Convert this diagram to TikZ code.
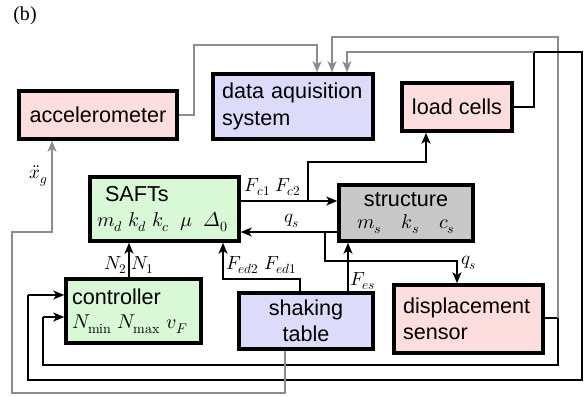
\documentclass[tikz,border=0pt]{standalone}
\usepackage{amsmath}
\usepackage{fontspec}
\usepackage{unicode-math}
\setmainfont{Liberation Sans}
\setmathfont{latinmodern-math.otf}
\newfontfamily\serifb{Liberation Serif}
\usetikzlibrary{arrows.meta,calc}
\definecolor{pinkf}{RGB}{253,221,221}
\definecolor{lavf}{RGB}{220,220,250}
\definecolor{grnf}{RGB}{216,248,214}
\definecolor{gryf}{RGB}{200,200,200}
\definecolor{wire}{RGB}{140,140,140}
\tikzset{
  box/.style={draw=black, line width=3.5pt, inner sep=0pt, font=\fontsize{21.6}{26.5}\selectfont},
  conn/.style={line width=1.8pt, black},
  gconn/.style={line width=1.8pt, wire},
  tip/.style={-{Stealth[length=11pt,width=9pt,inset=3pt]}},
  lab/.style={inner sep=0pt, font=\fontsize{19}{21}\selectfont},
}
\newcommand{\mlsz}{\fontsize{20}{22}\selectfont}
\begin{document}
\begin{tikzpicture}[x=1pt,y=-1pt]
\useasboundingbox (0,0) rectangle (588,396);

% boxes
\node[box, fill=pinkf, minimum width=158pt, minimum height=48pt] (acc) at (98,115) {accelerometer};
\node[box, fill=lavf, minimum width=160pt, minimum height=65pt, text width=142pt, align=left] (dq) at (293,106.5) {data aquisition\\system};
\node[box, fill=pinkf, minimum width=110pt, minimum height=48pt] (lc) at (457,107) {load cells};
\node[box, fill=grnf, minimum width=149pt, minimum height=64pt, text width=135pt, align=left] (saft) at (164.5,209) {\hspace*{8pt}SAFTs\\[-1pt]{\mlsz$m_d\;k_d\;k_c\;\;\mu\;\;\symit{\Delta}_0$}};
\node[box, fill=gryf, minimum width=134pt, minimum height=56pt, align=center] (st) at (406,213) {structure\\[-4pt]{\mlsz$m_s\quad k_s\quad c_s$}};
\node[box, fill=grnf, minimum width=135pt, minimum height=64pt, text width=123pt, align=left] (ctl) at (133.5,311) {controller\\[-2pt]{\mlsz$N_{\symup{min}}\;N_{\symup{max}}\;v_F$}};
\node[box, fill=lavf, minimum width=134pt, minimum height=56pt, align=center] (shk) at (306,321) {shaking\\table};
\node[box, fill=pinkf, minimum width=149pt, minimum height=68pt, text width=131pt, align=left] (ds) at (468.5,319) {displacement\\sensor};

% title
\node[inner sep=0pt, font=\serifb\fontsize{20}{22}\selectfont] (ttl) at (25,16) {(b)};

% coordinates
\coordinate (a1) at (317,45);
\coordinate (a2) at (332,37);
\coordinate (a3) at (347,52);
\coordinate (j1) at (534,52);
\coordinate (j2) at (558,318);
\coordinate (r1) at (582,380);
\coordinate (r2) at (28,295);
\coordinate (r3) at (43,317);
\coordinate (g1) at (12,393);
\coordinate (g2) at (52,232);
\coordinate (f1) at (308,162);
\coordinate (q1) at (325,261);
\coordinate (q2) at (457,261);
\coordinate (e1) at (300,279);
\coordinate (e2) at (223,279);
\coordinate (fs) at (348,293);
\coordinate (nn) at (129,279);

% accelerometer -> DAQ
\draw[gconn, tip] (acc.east) -- ++(15,0) |- (a1) -- (a1 |- dq.north);
% displacement sensor -> DAQ and controller
\draw[conn] (ds.east |- j2) -- (j2) -- (j2 |- 0,365) -| (r3);
\draw[conn, tip] (r3) -- (r3 -| ctl.west);
\draw[gconn, tip] (j2) |- (a2) -- (a2 |- dq.north);
% load cells -> DAQ and controller
\draw[conn] (lc.east) -| (j1) -| (r1) -| (r2);
\draw[conn, tip] (r2) -- (r2 -| ctl.west);
\draw[gconn, tip] (j1) -- (a3) -- (a3 |- dq.north);
% shaking table -> accelerometer
\draw[gconn, tip] (shk.south -| 285,0) |- (g1) |- (g2) -- (g2 |- acc.south);
% SAFTs -> structure and load cells
\draw[conn, tip] (saft.east |- 0,201) -- (st.west |- 0,201);
\draw[conn, tip] (f1 |- 0,201) -- (f1) -| (lc.south -| 426,0);
% structure -> SAFTs, displacement sensor
\draw[conn, tip] (st.west |- 0,232) -- (saft.east |- 0,232);
\draw[conn, tip] (q1 |- 0,232) -- (q1) -- (q2) -- (q2 |- ds.north);
% shaking table -> structure, SAFTs
\draw[conn, tip] (shk.north -| fs) -- (st.south -| fs);
\draw[conn, tip] (shk.north -| e1) -- (e1) -- (e2) -- (e2 |- saft.south);
% controller -> SAFTs
\draw[conn, tip] (ctl.north -| nn) -- (saft.south -| nn);

% labels
\node[lab] (lxg) at (39,176) {$\ddot{x}_g$};
\node[lab] (lfc) at (273,187) {$F_{c1}\;F_{c2}$};
\node[lab] (lqs) at (292,221) {$q_s$};
\node[lab, anchor=east] (ln2) at (127,265) {$N_2$};
\node[lab, anchor=west] (ln1) at (131,265) {$N_1$};
\node[lab, anchor=west] (lfe) at (226,265) {$F_{ed2}\;F_{ed1}$};
\node[lab, anchor=west] (lfs) at (350,281) {$F_{es}$};
\node[lab, anchor=west] (lq2) at (461,263) {$q_s$};
\end{tikzpicture}
\end{document}
